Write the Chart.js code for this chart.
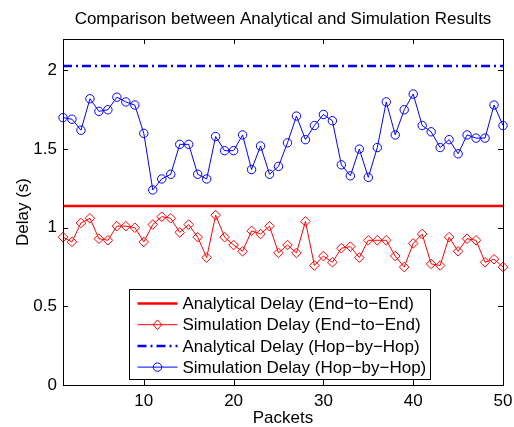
<!DOCTYPE html>
<html>
<head>
<meta charset="utf-8">
<script src="https://cdn.jsdelivr.net/npm/chart.js@4.4.1/dist/chart.umd.min.js"></script>
<style>
  html, body { margin: 0; padding: 0; background: #fff; }
  canvas { display: block; }
</style>
</head>
<body>
<canvas id="delayChart" width="514" height="427"></canvas>
<script>
// packet index on the x axis
const packets = [1, 2, 3, 4, 5, 6, 7, 8, 9, 10, 11, 12, 13, 14, 15, 16, 17, 18, 19, 20,
  21, 22, 23, 24, 25, 26, 27, 28, 29, 30, 31, 32, 33, 34, 35, 36, 37, 38, 39, 40,
  41, 42, 43, 44, 45, 46, 47, 48, 49, 50];

// simulated delays (s)
const simEndToEnd = [0.94, 0.91, 1.03, 1.06, 0.93, 0.92, 1.01, 1.01, 1.00, 0.91,
  1.02, 1.07, 1.06, 0.97, 1.02, 0.94, 0.81, 1.08, 0.94, 0.89,
  0.85, 0.98, 0.96, 1.01, 0.84, 0.89, 0.84, 1.04, 0.76, 0.82,
  0.78, 0.87, 0.88, 0.81, 0.92, 0.92, 0.92, 0.82, 0.75, 0.90,
  0.96, 0.77, 0.76, 0.94, 0.85, 0.93, 0.92, 0.78, 0.80, 0.75];

const simHopByHop = [1.70, 1.69, 1.62, 1.82, 1.74, 1.75, 1.83, 1.80, 1.78, 1.60,
  1.24, 1.31, 1.34, 1.53, 1.53, 1.34, 1.31, 1.58, 1.49, 1.49,
  1.59, 1.37, 1.52, 1.34, 1.39, 1.54, 1.71, 1.56, 1.65, 1.72,
  1.68, 1.40, 1.33, 1.50, 1.32, 1.51, 1.80, 1.59, 1.75, 1.85,
  1.65, 1.61, 1.51, 1.56, 1.47, 1.59, 1.57, 1.57, 1.78, 1.65];

// analytical delays (s), constant over all packets
const analyticalEndToEnd = 1.138;
const analyticalHopByHop = 2.028;

const xTicks = [10, 20, 30, 40, 50];
const yTicks = [0, 0.5, 1, 1.5, 2];

const chartTitle = 'Comparison between Analytical and Simulation Results';
const seriesLabels = [
  'Analytical Delay (End\u2212to\u2212End)',
  'Simulation Delay (End\u2212to\u2212End)',
  'Analytical Delay (Hop\u2212by\u2212Hop)',
  'Simulation Delay (Hop\u2212by\u2212Hop)'
];

const FONT = '"Liberation Sans", Arial, Helvetica, sans-serif';
const FS = 17;
Chart.defaults.font.family = FONT;
Chart.defaults.color = '#000';

const toPoints = vals => packets.map((p, i) => ({ x: p, y: vals[i] }));
const flatLine = v => [packets[0], packets[packets.length - 1]].map(p => ({ x: p, y: v }));

// title over the axes, box with inward ticks, MATLAB-like legend
const axesAndLegend = {
  id: 'axesAndLegend',
  afterDraw(chart) {
    const ctx = chart.ctx;
    const { left, right, top, bottom } = chart.chartArea;
    const xs = chart.scales.x, ys = chart.scales.y;
    const tl = 5;
    ctx.save();

    ctx.font = FS + 'px ' + FONT;
    ctx.fillStyle = '#000';
    ctx.textAlign = 'center';
    ctx.textBaseline = 'middle';
    ctx.fillText(chartTitle, (left + right) / 2, 19);

    ctx.strokeStyle = '#000';
    ctx.lineWidth = 1;
    ctx.setLineDash([]);
    ctx.beginPath();
    xTicks.forEach(t => {
      const px = Math.round(xs.getPixelForValue(t)) + 0.5;
      ctx.moveTo(px, bottom); ctx.lineTo(px, bottom - tl);
      ctx.moveTo(px, top); ctx.lineTo(px, top + tl);
    });
    yTicks.forEach(t => {
      const py = Math.round(ys.getPixelForValue(t)) + 0.5;
      ctx.moveTo(left, py); ctx.lineTo(left + tl, py);
      ctx.moveTo(right, py); ctx.lineTo(right - tl, py);
    });
    ctx.stroke();
    ctx.strokeRect(Math.round(left) + 0.5, Math.round(top) + 0.5,
      Math.round(right - left), Math.round(bottom - top));

    // legend
    const datasets = chart.data.datasets;
    const textW = Math.max(...datasets.map(d => ctx.measureText(d.label).width));
    const bx = 129.5, by = 289.5, rowH = 21.2;
    const bw = Math.round(53 + textW + 4), bh = 90;
    ctx.fillStyle = '#fff';
    ctx.fillRect(bx, by, bw, bh);
    ctx.strokeStyle = '#000';
    ctx.lineWidth = 1;
    ctx.strokeRect(bx, by, bw, bh);

    datasets.forEach((ds, i) => {
      const y = by + 14 + i * rowH;
      ctx.strokeStyle = ds.borderColor;
      ctx.lineWidth = ds.borderWidth;
      ctx.setLineDash(ds.borderDash || []);
      ctx.beginPath();
      ctx.moveTo(bx + 8, y); ctx.lineTo(bx + 48, y);
      ctx.stroke();
      ctx.setLineDash([]);
      const mx = bx + 28;
      if (ds.pointRadius > 0) {
        ctx.lineWidth = 1;
        ctx.beginPath();
        if (ds.pointStyle === 'circle') {
          ctx.arc(mx, y, ds.pointRadius, 0, Math.PI * 2);
        } else {
          const r = ds.pointRadius;
          ctx.moveTo(mx, y - r); ctx.lineTo(mx + r * 0.9, y);
          ctx.lineTo(mx, y + r); ctx.lineTo(mx - r * 0.9, y);
          ctx.closePath();
        }
        ctx.stroke();
      }
      ctx.fillStyle = '#000';
      ctx.textAlign = 'left';
      ctx.fillText(ds.label, bx + 53, y + 1);
    });
    ctx.restore();
  }
};

new Chart(document.getElementById('delayChart'), {
  type: 'scatter',
  data: {
    datasets: [
      {
        label: seriesLabels[0],
        data: flatLine(analyticalEndToEnd),
        showLine: true,
        borderColor: '#ff0000',
        borderWidth: 2.5,
        pointRadius: 0
      },
      {
        label: seriesLabels[1],
        data: toPoints(simEndToEnd),
        showLine: true,
        clip: false,
        borderColor: '#ff0000',
        borderWidth: 1,
        pointStyle: 'rectRot',
        pointRadius: 4.8,
        pointBorderWidth: 1,
        pointBackgroundColor: 'rgba(0,0,0,0)'
      },
      {
        label: seriesLabels[2],
        data: flatLine(analyticalHopByHop),
        showLine: true,
        borderColor: '#0000ff',
        borderWidth: 2.5,
        borderDash: [9, 4, 2, 4],
        pointRadius: 0
      },
      {
        label: seriesLabels[3],
        data: toPoints(simHopByHop),
        showLine: true,
        clip: false,
        borderColor: '#0000ff',
        borderWidth: 1,
        pointStyle: 'circle',
        pointRadius: 4.2,
        pointBorderWidth: 1,
        pointBackgroundColor: 'rgba(0,0,0,0)'
      }
    ]
  },
  options: {
    responsive: false,
    animation: false,
    layout: { padding: { left: 0, right: 11, top: 39, bottom: 0 } },
    plugins: {
      legend: { display: false },
      tooltip: { enabled: false },
      title: { display: false }
    },
    scales: {
      x: {
        type: 'linear',
        min: 1,
        max: 50,
        afterBuildTicks: s => { s.ticks = xTicks.map(v => ({ value: v })); },
        afterFit: s => { s.height = 42; s.paddingRight = 0; },
        grid: { display: false, drawTicks: false },
        border: { display: false },
        ticks: { font: { size: FS }, padding: 6, maxRotation: 0, callback: v => String(v) },
        title: { display: true, text: 'Packets', font: { size: FS, lineHeight: 1 }, padding: { top: 0, bottom: 0 } }
      },
      y: {
        min: 0,
        max: 2.2,
        afterBuildTicks: s => { s.ticks = yTicks.map(v => ({ value: v })); },
        afterFit: s => { s.width = 63; },
        grid: { display: false, drawTicks: false },
        border: { display: false },
        ticks: { font: { size: FS }, padding: 6, callback: v => String(v) },
        title: { display: true, text: 'Delay (s)', font: { size: FS, lineHeight: 1 }, padding: { top: 15, bottom: 0 } }
      }
    }
  },
  plugins: [axesAndLegend]
});
</script>
</body>
</html>
